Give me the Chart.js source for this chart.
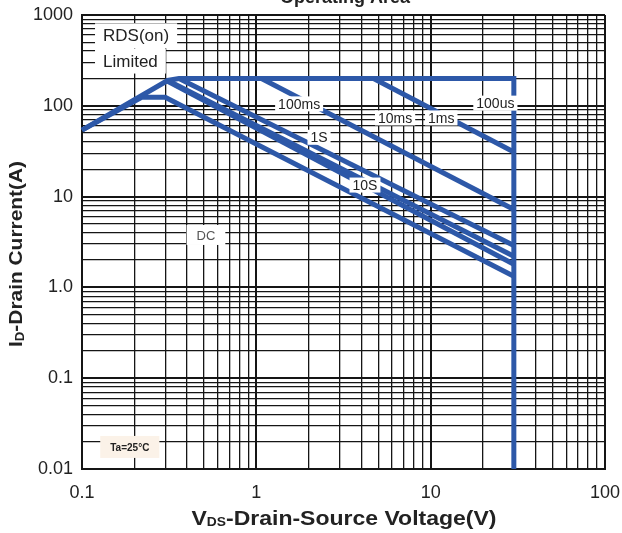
<!DOCTYPE html>
<html>
<head>
<meta charset="utf-8">
<script src="https://cdn.jsdelivr.net/npm/chart.js@4.4.0/dist/chart.umd.min.js"></script>
<style>
  html, body { margin: 0; padding: 0; background: #fff; }
  #wrap { width: 622px; height: 533px; position: relative; }
</style>
</head>
<body>
<div id="wrap"><canvas id="soa"></canvas></div>
<script>
const xTickLabels = ['0.1', '1', '10', '100'];
const yTickLabels = ['0.01', '0.1', '1.0', '10', '100', '1000'];

// VDS (V) / ID (A) for each boundary
const limitV = [0.1, 0.31, 0.36, 30, 30];
const limitA = [54, 190, 200, 200, 0.01];
const ms1V = [4.7, 30];
const ms1A = [200, 31];
const ms10V = [1.07, 30];
const ms10A = [200, 7.2];
const ms100V = [0.36, 30];
const ms100A = [200, 2.9];
const s1V = [0.31, 30];
const s1A = [190, 2.2];
const s10V = [0.31, 30];
const s10A = [186, 1.8];
const dcV = [0.1, 0.22, 0.3, 30];
const dcA = [54, 124, 124, 1.33];

const FONT = "'Liberation Sans', Arial, sans-serif";
const BLUE = '#2d58a8';

// text labels in data coordinates
const notes = [
  {text: 'RDS(on)', v: 0.132, a: 590, font: '17px ' + FONT, align: 'left', h: 25, pad: 8},
  {text: 'Limited', v: 0.132, a: 311, font: '17px ' + FONT, align: 'left', h: 25, pad: 8},
  {text: '100ms', v: 1.76, a: 105, font: '14px ' + FONT},
  {text: '1S', v: 2.29, a: 45, font: '14px ' + FONT},
  {text: '10S', v: 4.2, a: 13.4, font: '14px ' + FONT},
  {text: '10ms', v: 6.25, a: 73.5, font: '14px ' + FONT},
  {text: '1ms', v: 11.5, a: 73.5, font: '14px ' + FONT},
  {text: '100us', v: 23.5, a: 107, font: '14px ' + FONT},
  {text: 'DC', v: 0.514, a: 3.78, font: '13px ' + FONT, color: '#555', h: 20, pad: 10},
  {text: 'Ta=25°C', v: 0.188, a: 0.0175, font: 'bold 10px ' + FONT, bg: '#fbf2e8', h: 22, pad: 10}
];

const pts = (xs, ys) => xs.map((v, i) => ({x: v, y: ys[i]}));

const logTicks = (min, max) => {
  const out = [];
  for (let e = Math.floor(Math.log10(min)); e <= Math.ceil(Math.log10(max)); e++) {
    for (let m = 1; m <= 9; m++) {
      const v = parseFloat((m * Math.pow(10, e)).toPrecision(6));
      if (v >= min * 0.9999 && v <= max * 1.0001) out.push({value: v});
    }
  }
  return out;
};
const isDecade = v => Math.abs(Math.log10(v) - Math.round(Math.log10(v))) < 1e-6;
const decadeLabel = (v, labels, minExp) => isDecade(v) ? labels[Math.round(Math.log10(v)) - minExp] : '';

const drawRich = (ctx, parts, size) => {
  let w = 0;
  parts.forEach(p => {
    ctx.font = 'bold ' + (p.sub ? Math.round(size * 0.62) : size) + 'px ' + FONT;
    w += ctx.measureText(p.t).width;
  });
  let cx = -w / 2;
  parts.forEach(p => {
    ctx.font = 'bold ' + (p.sub ? Math.round(size * 0.62) : size) + 'px ' + FONT;
    ctx.fillText(p.t, cx, p.sub ? size * 0.18 : 0);
    cx += ctx.measureText(p.t).width;
  });
};

const overlay = {
  id: 'overlay',
  afterDatasetsDraw(chart) {
    const {ctx, scales: {x, y}} = chart;
    ctx.save();
    notes.forEach(n => {
      ctx.font = n.font;
      const px = x.getPixelForValue(n.v);
      const py = y.getPixelForValue(n.a);
      const w = ctx.measureText(n.text).width;
      const left = n.align === 'left' ? px : px - w / 2;
      const pad = n.pad || 3;
      const h = n.h || 15;
      ctx.fillStyle = n.bg || '#fff';
      ctx.fillRect(left - pad, py - h / 2, w + 2 * pad, h);
      ctx.fillStyle = n.color || '#222';
      ctx.textAlign = 'left';
      ctx.textBaseline = 'middle';
      ctx.fillText(n.text, left, py + 1);
    });
    ctx.restore();
  },
  afterDraw(chart) {
    const {ctx} = chart;
    ctx.save();
    ctx.fillStyle = '#222';
    ctx.textBaseline = 'middle';
    ctx.textAlign = 'left';
    // x axis title
    ctx.save();
    ctx.translate(344, 519);
    ctx.scale(1.15, 1);
    drawRich(ctx, [{t: 'V'}, {t: 'DS', sub: true}, {t: '-Drain-Source Voltage(V)'}], 20);
    ctx.restore();
    // y axis title
    ctx.save();
    ctx.translate(17, 254);
    ctx.rotate(-Math.PI / 2);
    ctx.scale(1.1, 1);
    drawRich(ctx, [{t: 'I'}, {t: 'D', sub: true}, {t: '-Drain Current(A)'}], 19);
    ctx.restore();
    // chart title, cut off by the top edge
    ctx.font = 'bold 18px ' + FONT;
    ctx.textAlign = 'center';
    ctx.textBaseline = 'alphabetic';
    ctx.fillText('Operating Area', 345, 3);
    ctx.restore();
  }
};

const lineSet = (label, xs, ys) => ({
  label: label,
  data: pts(xs, ys),
  showLine: true,
  borderColor: BLUE,
  backgroundColor: BLUE,
  borderWidth: 5,
  pointRadius: 0,
  tension: 0,
  fill: false,
  clip: 3
});

const gridStyle = {
  color: '#151515',
  lineWidth: c => (c.tick && isDecade(c.tick.value)) ? 2 : 1.3,
  drawTicks: false
};

new Chart(document.getElementById('soa'), {
  type: 'scatter',
  data: {
    datasets: [
      lineSet('100us', limitV, limitA),
      lineSet('1ms', ms1V, ms1A),
      lineSet('10ms', ms10V, ms10A),
      lineSet('100ms', ms100V, ms100A),
      lineSet('1S', s1V, s1A),
      lineSet('10S', s10V, s10A),
      lineSet('DC', dcV, dcA)
    ]
  },
  options: {
    responsive: true,
    maintainAspectRatio: false,
    animation: false,
    layout: { padding: { top: 15, right: 17, left: 0, bottom: 0 } },
    plugins: {
      legend: { display: false },
      tooltip: { enabled: false }
    },
    scales: {
      x: {
        type: 'logarithmic',
        min: 0.1,
        max: 100,
        afterBuildTicks: s => { s.ticks = logTicks(0.1, 100); },
        afterFit: s => { s.height = 64; s.paddingLeft = 0; s.paddingRight = 0; },
        ticks: {
          autoSkip: false,
          maxRotation: 0,
          padding: 13,
          color: '#222',
          font: { family: FONT, size: 18 },
          callback: v => decadeLabel(v, xTickLabels, -1)
        },
        grid: gridStyle,
        border: { color: '#151515', width: 2 }
      },
      y: {
        type: 'logarithmic',
        min: 0.01,
        max: 1000,
        afterBuildTicks: s => { s.ticks = logTicks(0.01, 1000); },
        afterFit: s => { s.width = 82; s.paddingTop = 0; s.paddingBottom = 0; },
        ticks: {
          autoSkip: false,
          padding: 9,
          color: '#222',
          font: { family: FONT, size: 18 },
          callback: v => decadeLabel(v, yTickLabels, -2)
        },
        grid: gridStyle,
        border: { color: '#151515', width: 2 }
      }
    }
  },
  plugins: [overlay]
});
</script>
</body>
</html>
